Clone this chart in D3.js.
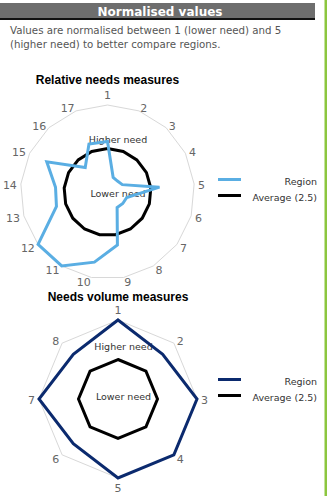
<!DOCTYPE html>
<html><head><meta charset="utf-8">
<script src="https://cdn.jsdelivr.net/npm/d3@7"></script>
<style>
html,body{margin:0;padding:0;background:#fff;}
svg{display:block;font-family:"DejaVu Sans",Verdana,sans-serif;}
</style></head>
<body>
<svg id="c" width="327" height="496"></svg>
<script>
// ---- data ----
const relativeAxes = ["1","2","3","4","5","6","7","8","9","10","11","12","13","14","15","16","17"];
const relativeRegion = [2.9, 0.9, 0.85, 0.95, 3.0, 1.15, 1.1, 1.05, 3.1, 4.1, 5.0, 5.0, 3.05, 3.0, 3.9, 1.9, 2.95];
const relativeAverage = [2.5, 2.5, 2.5, 2.5, 2.5, 2.5, 2.5, 2.5, 2.5, 2.5, 2.5, 2.5, 2.5, 2.5, 2.5, 2.5, 2.5];
const volumeAxes = ["1","2","3","4","5","6","7","8"];
const volumeRegion = [5, 4, 5, 5, 5, 4, 5, 4];
const volumeAverage = [2.5, 2.5, 2.5, 2.5, 2.5, 2.5, 2.5, 2.5];
const legendLabels = ["Region", "Average (2.5)"];
const scaleDomain = [0, 5];

const svg = d3.select("#c");

// header
svg.append("rect").attr("x",0).attr("y",3).attr("width",315).attr("height",16).attr("fill","#6e6e6e");
svg.append("rect").attr("x",0).attr("y",18).attr("width",315).attr("height",2).attr("fill","#111");
svg.append("text").attr("x",160).attr("y",15.5).attr("text-anchor","middle")
  .attr("font-size",12).attr("font-weight","bold").attr("fill","#fff").text("Normalised values");
svg.append("text").attr("x",10).attr("y",34).attr("font-size",10.25).attr("fill","#555")
  .text("Values are normalised between 1 (lower need) and 5");
svg.append("text").attr("x",10).attr("y",47.5).attr("font-size",10.25).attr("fill","#555")
  .text("(higher need) to better compare regions.");
// green right border
svg.append("rect").attr("x",324.5).attr("y",0).attr("width",2.5).attr("height",496).attr("fill","#8cc63f");

function radar(opt){
  const g = svg.append("g");
  const n = opt.axes.length;
  const r = d3.scaleLinear().domain(scaleDomain).range([0, opt.R]);
  const ang = d3.scalePoint().domain(opt.axes).range([0, 2*Math.PI*(n-1)/n]);
  const pt = (a, v) => [opt.cx + r(v)*Math.sin(ang(a)), opt.cy - r(v)*Math.cos(ang(a))];
  const line = d3.line().curve(d3.curveLinearClosed);

  g.append("text").attr("x",opt.titleX).attr("y",opt.titleY).attr("text-anchor","middle")
    .attr("font-family","'Liberation Sans',Arial,sans-serif")
    .attr("font-size",12).attr("font-weight","bold").attr("fill","#000").text(opt.title);

  // outer grid
  g.append("path").attr("d", line(opt.axes.map(a => pt(a, scaleDomain[1]))))
    .attr("fill","none").attr("stroke","#d8d8d8").attr("stroke-width",1);

  // axis labels
  opt.axes.forEach(a => {
    const s = Math.sin(ang(a)), c = Math.cos(ang(a));
    const D = opt.R + 4;
    const px = opt.cx + D*s, py = opt.cy - D*c;
    const t = g.append("text").attr("font-size",11).attr("fill","#666")
      .attr("dominant-baseline","central").text(a);
    if (Math.abs(s) < 0.1) {
      t.attr("text-anchor","middle").attr("x", px).attr("y", py - 6*c);
    } else {
      t.attr("text-anchor", s > 0 ? "start" : "end").attr("x", px).attr("y", py + 1.5);
    }
  });

  // inner labels
  g.append("text").attr("x",opt.cx+opt.lblDx).attr("y",opt.cy-53).attr("text-anchor","middle")
    .attr("dominant-baseline","central").attr("font-size",9.5).attr("fill","#333").text("Higher need");
  g.append("text").attr("x",opt.cx+opt.lblDx).attr("y",opt.cy+opt.lowDy).attr("text-anchor","middle")
    .attr("dominant-baseline","central").attr("font-size",9.5).attr("fill","#333").text("Lower need");

  // average
  g.append("path").attr("d", line(opt.axes.map((a,i) => pt(a, opt.average[i]))))
    .attr("fill","none").attr("stroke","#000").attr("stroke-width",3).attr("stroke-linejoin","miter");
  // region
  g.append("path").attr("d", line(opt.axes.map((a,i) => pt(a, opt.region[i]))))
    .attr("fill","none").attr("stroke",opt.color).attr("stroke-width",3).attr("stroke-linejoin","miter");

  // legend
  const cols = [opt.color, "#000"];
  legendLabels.forEach((lab,i) => {
    const y = opt.legY + i*16;
    g.append("line").attr("x1",218).attr("x2",241).attr("y1",y).attr("y2",y)
      .attr("stroke",cols[i]).attr("stroke-width",3);
    g.append("text").attr("x",317).attr("y",y+1.5).attr("text-anchor","end")
      .attr("dominant-baseline","central").attr("font-size",9.5).attr("fill","#333").text(lab);
  });
}

radar({axes: relativeAxes, region: relativeRegion, average: relativeAverage,
  cx:107.5, cy:192, R:87, color:"#5aaee3", title:"Relative needs measures",
  titleX:107.5, titleY:84, lblDx:10.5, lowDy:1, legY:179.5});
radar({axes: volumeAxes, region: volumeRegion, average: volumeAverage,
  cx:118, cy:399, R:79, color:"#0b2a6e", title:"Needs volume measures",
  titleX:118, titleY:301, lblDx:5.5, lowDy:-3, legY:379.5});
</script>
</body></html>
